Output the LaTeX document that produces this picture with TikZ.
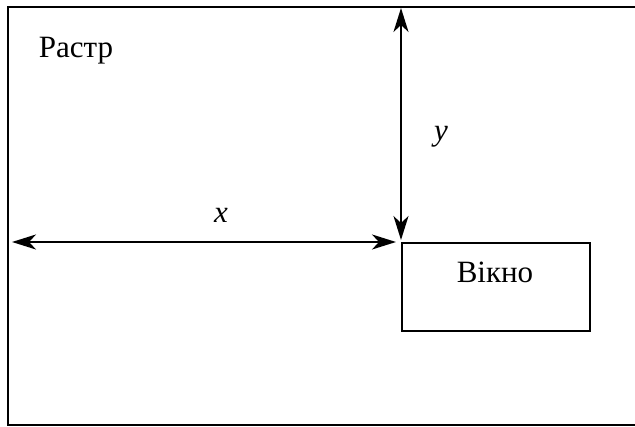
\documentclass[tikz,border=0pt]{standalone}
\usepackage{fontspec}
\setmainfont{Liberation Serif}
\usetikzlibrary{arrows.meta}
\begin{document}
\begin{tikzpicture}[x=1pt, y=-1pt, line width=1.8pt,
  every node/.style={font=\fontsize{31}{36}\selectfont, inner sep=0pt},
  box/.style={draw, line width=1.6pt, anchor=north west},
  dim/.style={{Stealth[length=24pt,width=15pt,inset=7pt]}-{Stealth[length=24pt,width=15pt,inset=7pt]}, line width=2pt}]
\useasboundingbox (0,0) rectangle (635,427);
\node[box,minimum width=633pt,minimum height=418pt] (raster) at (7,6) {};
\node[box,minimum width=188pt,minimum height=88pt] (window) at (401,242) {};
\node[anchor=base west] (rlabel) at (38,58) {Растр};
\node[anchor=base] (wlabel) at (495,283) {Вікно};
% offsets of the window
\draw[dim,shorten <=2pt,shorten >=2pt] (raster.north -| window.north west) -- (window.north west);
\draw[dim,shorten <=5pt,shorten >=5pt] (raster.west |- window.north west) -- (window.north west);
\node[anchor=base] (ylabel) at (441,141) {\itshape y};
\node[anchor=base] (xlabel) at (221,223) {\itshape x};
\end{tikzpicture}
\end{document}
